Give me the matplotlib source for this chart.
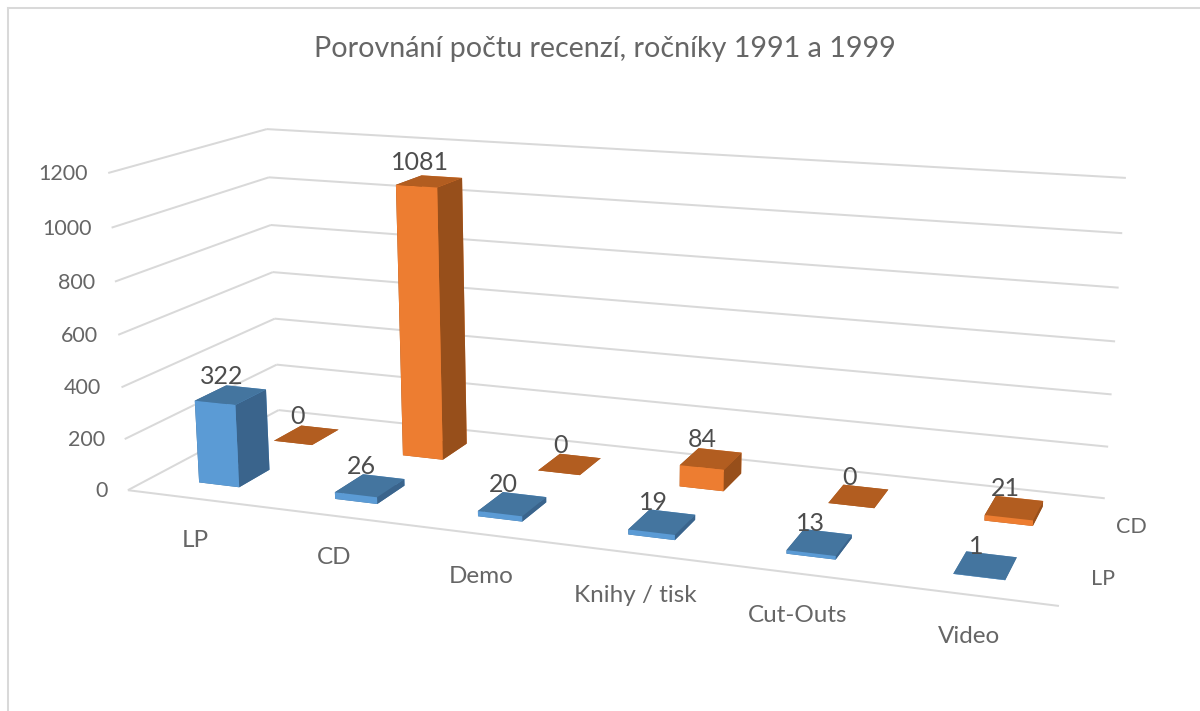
import numpy as np
import matplotlib
matplotlib.use("Agg")
import matplotlib.pyplot as plt
from matplotlib.lines import Line2D
from mpl_toolkits.mplot3d.art3d import Line3DCollection

# ---- data ----
title = "Porovnání počtu recenzí, ročníky 1991 a 1999"
categories = ["LP", "CD", "Demo", "Knihy / tisk", "Cut-Outs", "Video"]
series_names = ["LP", "CD"]
values_lp = [322, 26, 20, 19, 13, 1]
values_cd = [0, 1081, 0, 84, 0, 21]
z_ticks = [0, 200, 400, 600, 800, 1000, 1200]

# ---- style ----
W, H = 1200, 711
ZMAX = 1200.0
BAR_X = (0.35, 0.30)   # offset, width
BAR_Y = (0.30, 0.40)
GRID = "#D9D9D9"
TXT = "#666666"
LBL = "#4D4D4D"
# faces: bottom, top, front, back, left, right
FACES_LP = ["#44759F", "#44759F", "#5B9BD5", "#5B9BD5", "#3A648C", "#3A648C"]
FACES_CD = ["#B25D20", "#B25D20", "#ED7D31", "#ED7D31", "#974F1B", "#974F1B"]
SERIES_OFFSET = [(-16, -3), (-8, 0)]

plt.rcParams["font.family"] = ["Lato", "DejaVu Sans"]

fig = plt.figure(figsize=(W / 100, H / 100), dpi=100, facecolor="white")
ax = fig.add_axes([0, 0, 1, 1], projection="3d", computed_zorder=False)
ax.set_axis_off()
ax.patch.set_alpha(0)

# camera calibration: box corners (x, y, z) -> pixel position of the reference view
calib = [
    (0, 0, 0, 128, 490), (0, 2, 0, 278, 410), (6, 2, 0, 1105, 498), (6, 0, 0, 1059, 606),
    (0, 0, 1200, 108, 173), (0, 2, 1200, 267, 129), (6, 2, 1200, 1126, 178),
    (0, 0, 200, 125, 439), (0, 2, 200, 277, 365), (6, 2, 200, 1108, 447),
    (0, 0, 600, 118, 335), (0, 2, 600, 273, 272), (6, 2, 1000, 1122, 233),
]
rows = []
for x, y, z, u, v in calib:
    z = z / ZMAX
    v = H - v
    rows.append([x, y, z, 1, 0, 0, 0, 0, -u * x, -u * y, -u * z, -u])
    rows.append([0, 0, 0, 0, x, y, z, 1, -v * x, -v * y, -v * z, -v])
P = np.linalg.svd(np.array(rows, float))[2][-1].reshape(3, 4)
P = P * np.array([1, 1, 1 / ZMAX, 1])
if P[2, 3] < 0:
    P = -P


def get_proj():
    ax.apply_aspect()
    A = ax.transData.inverted().get_matrix()
    Mxy = A @ P
    w = Mxy[2] / Mxy[2, 3]
    f = 1 / Mxy[2, 3]
    return np.array([Mxy[0] * f, Mxy[1] * f, w - np.array([0, 0, 0, 0.5]), w])


ax.get_proj = get_proj


def label(x, y, z, dx, dy, s, **kw):
    """Text at the projected position of a 3D point, shifted by (dx, dy) pixels (dy downwards)."""
    u, v, w = P @ np.array([x, y, z, 1.0])
    fig.text((u / w + dx) / W, (v / w - dy) / H, s, ha=kw.pop("ha", "center"), va="center", **kw)


# gridlines and floor edge
segs = []
for t in z_ticks:
    segs.append([(0, 0, t), (0, 2, t)])
    segs.append([(0, 2, t), (6, 2, t)])
    label(0, 0, t, -20, 1, str(t), ha="right", fontsize=15.5, color=TXT)
segs.append([(0, 0, 0), (6, 0, 0)])
ax.add_collection3d(Line3DCollection(segs, colors=GRID, linewidths=1.45, clip_on=False, zorder=1))

# bars, back series first
for s, (vals, faces) in reversed(list(enumerate([(values_lp, FACES_LP), (values_cd, FACES_CD)]))):
    for i, val in enumerate(vals):
        ax.bar3d(i + BAR_X[0], s + BAR_Y[0], 0, BAR_X[1], BAR_Y[1], val, color=faces,
                 shade=False, linewidth=0, clip_on=False, zorder=3 + (1 - s) * 10 + i)
        label(i + BAR_X[0] + BAR_X[1] / 2, s + 0.5, val, -9, -19, str(val),
              fontsize=18, color=LBL)

for i, c in enumerate(categories):
    label(i + 0.5, 0, 0, 0, 42, c, fontsize=17.5, color=TXT)
for s, n in enumerate(series_names):
    label(6.27, s + 0.5, 0, *SERIES_OFFSET[s], n, fontsize=15.5, color=TXT)

ax.set_xlim(0, 6)
ax.set_ylim(0, 2)
ax.set_zlim(0, ZMAX)

fig.text(605 / W, 1 - 49 / H, title, ha="center", va="center", fontsize=20.6, color=TXT)
fig.add_artist(Line2D([7.5 / W, 7.5 / W], [0, 1 - 7.5 / H], color=GRID, lw=1.45))
fig.add_artist(Line2D([7.5 / W, 1], [1 - 7.5 / H, 1 - 7.5 / H], color=GRID, lw=1.45))

fig.savefig("out.png", dpi=100)
